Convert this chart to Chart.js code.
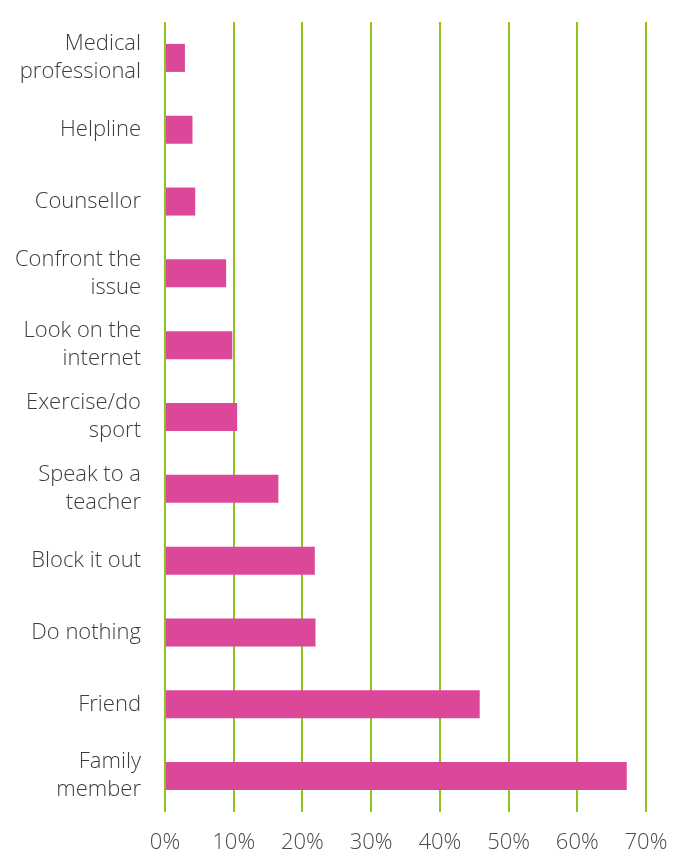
<!DOCTYPE html>
<html>
<head>
<meta charset="utf-8">
<script src="https://cdn.jsdelivr.net/npm/chart.js@4"></script>
<style>
  body{margin:0;background:#fff;}
  .chartbox{width:676px;height:858px;position:relative;}
</style>
</head>
<body>
<div class="chartbox"><canvas id="myChart"></canvas></div>
<script>
//data
const categories = [
  ["Medical","professional"],
  "Helpline",
  "Counsellor",
  ["Confront the","issue"],
  ["Look on the","internet"],
  ["Exercise/do","sport"],
  ["Speak to a","teacher"],
  "Block it out",
  "Do nothing",
  "Friend",
  ["Family","member"]
];
const percents = [2.9, 4.0, 4.4, 8.9, 9.8, 10.5, 16.5, 21.8, 21.9, 45.8, 67.2];
const xTicks = [0, 10, 20, 30, 40, 50, 60, 70];

//chart
const ctx = document.getElementById('myChart');

new Chart(ctx, {
  type: 'bar',
  data: {
    labels: categories,
    datasets: [{
      data: percents,
      backgroundColor: '#db4799',
      barPercentage: 0.39,
      categoryPercentage: 1
    }]
  },
  options: {
    indexAxis: 'y',
    responsive: true,
    maintainAspectRatio: false,
    animation: false,
    layout: {padding: {top: 22, right: 30, bottom: 0, left: 0}},
    plugins: {legend: {display: false}, tooltip: {enabled: false}},
    scales: {
      x: {
        min: xTicks[0],
        max: xTicks[xTicks.length - 1],
        afterBuildTicks: function(axis){
          axis.ticks = xTicks.map(v => ({value: v}));
        },
        afterFit: function(axis){
          axis.height = 46;
          axis.paddingLeft = 0;
          axis.paddingRight = 0;
        },
        grid: {color: '#8fc21c', lineWidth: 2, drawTicks: false},
        border: {display: false},
        ticks: {
          padding: 18,
          maxRotation: 0,
          color: '#4a4a4a',
          font: {family: 'Open Sans', size: 22, weight: 300},
          callback: v => v + '%'
        }
      },
      y: {
        afterFit: function(axis){
          // fixed label column, no extra room for the two-line labels
          axis.width = 165;
          axis.paddingTop = 0;
          axis.paddingBottom = 0;
        },
        grid: {display: false, drawTicks: false},
        border: {display: false},
        ticks: {
          padding: 24,
          color: '#3c3c3c',
          font: {family: 'Open Sans', size: 22, weight: 300, lineHeight: 1.27}
        }
      }
    }
  }
});
</script>
</body>
</html>
